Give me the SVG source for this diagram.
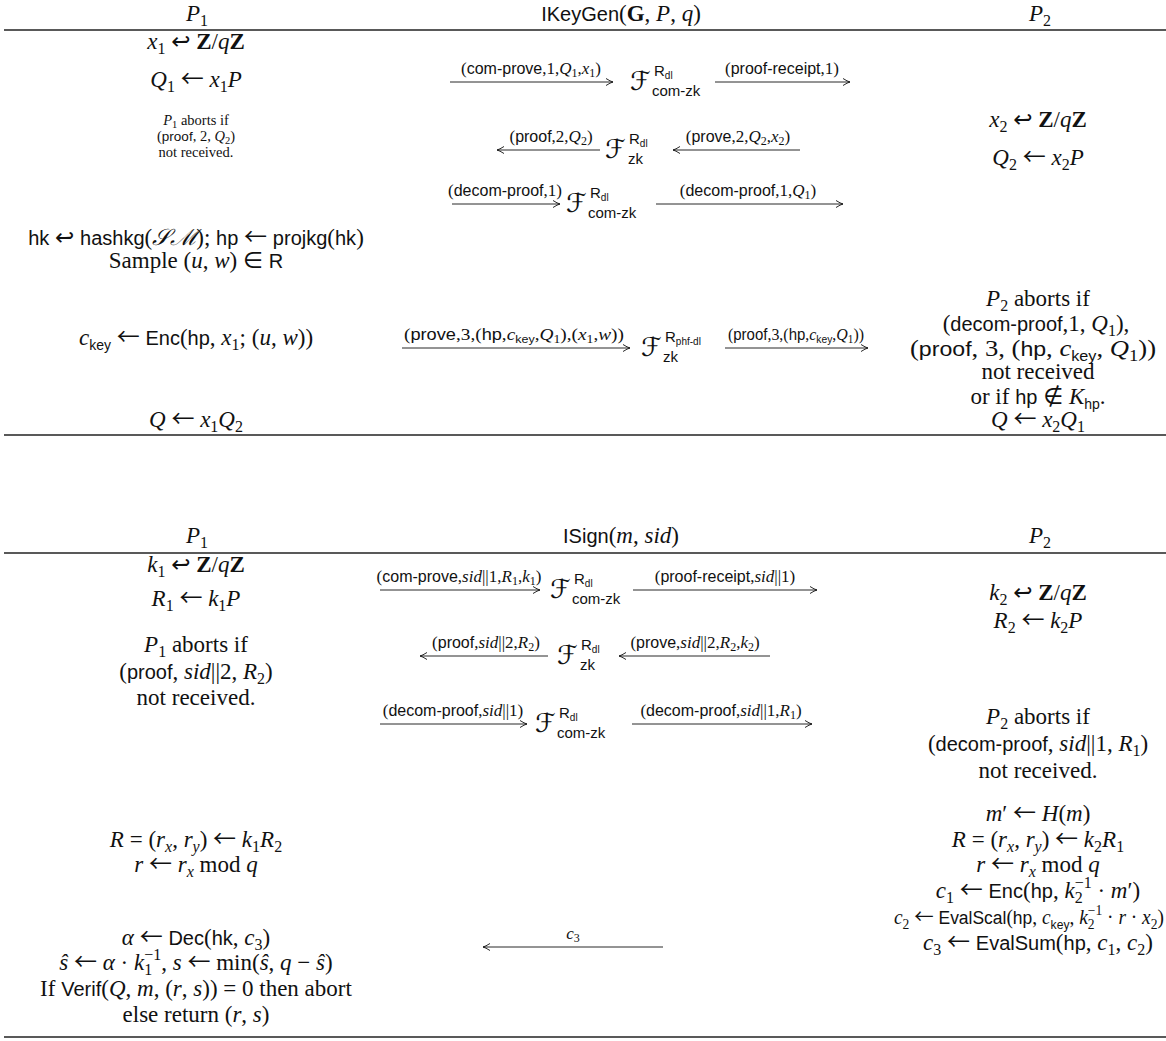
<svg xmlns="http://www.w3.org/2000/svg" width="1166" height="1041" viewBox="0 0 1166 1041">
<style>
.m{font-family:"Liberation Serif","DejaVu Serif",serif;font-size:23px;fill:#111;text-anchor:middle}
.m .s{font-size:20px}
.m2{font-size:20px}
.m2 .s{font-size:18px}
.sm{font-size:14.5px}
.sm .s{font-size:13.5px}
.l{font-family:"Liberation Serif","DejaVu Serif",serif;font-size:17px;fill:#111;text-anchor:middle}
.l .s{font-size:16px}
.i{font-style:italic}
.s{font-family:"Liberation Sans","DejaVu Sans",sans-serif;font-style:normal}
.b{font-weight:bold}
.a{font-family:"DejaVu Sans",sans-serif;font-style:normal}
.la{font-family:"Noto Sans CJK JP","DejaVu Sans",sans-serif;font-style:normal}
.m .u{font-size:16px}
.m .us{font-size:14px}
.m2 .u{font-size:14px}
.m2 .us{font-size:12.5px}
.su{font-size:10.5px}
.l .lu{font-size:12px}
.l .lus{font-size:11px}
.F{font-family:"DejaVu Serif","DejaVu Sans",serif;font-size:26px;font-style:italic;fill:#111}
.fs{font-family:"Liberation Sans","DejaVu Sans",sans-serif;font-size:15px;fill:#111}
.fss{font-size:10px}
.rule{stroke:#222;stroke-width:1.3}
.arr{stroke:#111;stroke-width:0.9;fill:none}
</style>
<defs>
<marker id="ah" viewBox="-8 -5 10 10" refX="0" refY="0" markerWidth="10" markerHeight="10" markerUnits="userSpaceOnUse" orient="auto"><path d="M-7,-3.5 Q-2.5,-0.6 0,0 Q-2.5,0.6 -7,3.5" fill="none" stroke="#111" stroke-width="0.9"/></marker>
</defs>
<rect width="1166" height="1041" fill="#fff"/>

<g id="rules">
<line class="rule" x1="4" y1="30" x2="1166" y2="30"/>
<line class="rule" x1="4" y1="435" x2="1166" y2="435"/>
<line class="rule" x1="4" y1="553" x2="1166" y2="553"/>
<line class="rule" x1="4" y1="1037" x2="1166" y2="1037"/>
</g>

<g id="headers">
<text class="m" x="197" y="21"><tspan class="i">P</tspan><tspan class="u" dy="5">1</tspan></text>
<text class="m" x="621" y="21"><tspan class="s">IKeyGen</tspan>(<tspan class="b">G</tspan>, <tspan class="i">P</tspan>, <tspan class="i">q</tspan>)</text>
<text class="m" x="1040" y="21"><tspan class="i">P</tspan><tspan class="u" dy="5">2</tspan></text>
<text class="m" x="197" y="543"><tspan class="i">P</tspan><tspan class="u" dy="5">1</tspan></text>
<text class="m" x="621" y="543"><tspan class="s">ISign</tspan>(<tspan class="i">m</tspan>, <tspan class="i">sid</tspan>)</text>
<text class="m" x="1040" y="543"><tspan class="i">P</tspan><tspan class="u" dy="5">2</tspan></text>
</g>

<g id="keygen-p1">
<text class="m" x="196" y="49"><tspan class="i">x</tspan><tspan class="u" dy="5">1</tspan><tspan dy="-5"> </tspan><tspan class="a">↩</tspan> <tspan class="b">Z</tspan>/<tspan class="i">q</tspan><tspan class="b">Z</tspan></text>
<text class="m" x="196" y="87"><tspan class="i">Q</tspan><tspan class="u" dy="5">1</tspan><tspan dy="-5"> </tspan><tspan class="la">←</tspan> <tspan class="i">x</tspan><tspan class="u" dy="5">1</tspan><tspan class="i" dy="-5">P</tspan></text>
<text class="m sm" x="196" y="125"><tspan class="i">P</tspan><tspan class="su" dy="3">1</tspan><tspan dy="-3"> aborts if</tspan></text>
<text class="m sm" x="196" y="141">(<tspan class="s">proof</tspan>, 2, <tspan class="i">Q</tspan><tspan class="su" dy="3">2</tspan><tspan dy="-3">)</tspan></text>
<text class="m sm" x="196" y="157">not received.</text>
<text class="m" x="196" y="245"><tspan class="s">hk</tspan> <tspan class="a">↩</tspan> <tspan class="s">hashkg</tspan>(<tspan class="i">𝒮ℳ</tspan>); <tspan class="s">hp</tspan> <tspan class="la">←</tspan> <tspan class="s">projkg</tspan>(<tspan class="s">hk</tspan>)</text>
<text class="m" x="196" y="268">Sample (<tspan class="i">u</tspan>, <tspan class="i">w</tspan>) <tspan class="a">∈</tspan> <tspan class="s">R</tspan></text>
<text class="m" x="196" y="345"><tspan class="i">c</tspan><tspan class="us s" dy="5">key</tspan><tspan dy="-5"> </tspan><tspan class="la">←</tspan> <tspan class="s">Enc</tspan>(<tspan class="s">hp</tspan>, <tspan class="i">x</tspan><tspan class="u" dy="5">1</tspan><tspan dy="-5">; (</tspan><tspan class="i">u</tspan>, <tspan class="i">w</tspan>))</text>
<text class="m" x="196" y="427"><tspan class="i">Q</tspan> <tspan class="la">←</tspan> <tspan class="i">x</tspan><tspan class="u" dy="5">1</tspan><tspan class="i" dy="-5">Q</tspan><tspan class="u" dy="5">2</tspan></text>
</g>

<g id="keygen-p2">
<text class="m" x="1038" y="127"><tspan class="i">x</tspan><tspan class="u" dy="5">2</tspan><tspan dy="-5"> </tspan><tspan class="a">↩</tspan> <tspan class="b">Z</tspan>/<tspan class="i">q</tspan><tspan class="b">Z</tspan></text>
<text class="m" x="1038" y="165"><tspan class="i">Q</tspan><tspan class="u" dy="5">2</tspan><tspan dy="-5"> </tspan><tspan class="la">←</tspan> <tspan class="i">x</tspan><tspan class="u" dy="5">2</tspan><tspan class="i" dy="-5">P</tspan></text>
<text class="m" x="1038" y="306"><tspan class="i">P</tspan><tspan class="u" dy="5">2</tspan><tspan dy="-5"> aborts if</tspan></text>
<text class="m" x="1036" y="331">(<tspan class="s">decom-proof</tspan>,1, <tspan class="i">Q</tspan><tspan class="u" dy="5">1</tspan><tspan dy="-5">),</tspan></text>
<text class="m" x="1033" y="356" textLength="246" lengthAdjust="spacingAndGlyphs">(<tspan class="s">proof</tspan>, 3, (<tspan class="s">hp</tspan>, <tspan class="i">c</tspan><tspan class="us s" dy="5">key</tspan><tspan dy="-5">, </tspan><tspan class="i">Q</tspan><tspan class="u" dy="5">1</tspan><tspan dy="-5">))</tspan></text>
<text class="m" x="1038" y="379">not received</text>
<text class="m" x="1038" y="404">or if <tspan class="s">hp</tspan> <tspan class="a">∉</tspan> <tspan class="i">K</tspan><tspan class="us s" dy="5">hp</tspan><tspan dy="-5">.</tspan></text>
<text class="m" x="1038" y="427"><tspan class="i">Q</tspan> <tspan class="la">←</tspan> <tspan class="i">x</tspan><tspan class="u" dy="5">2</tspan><tspan class="i" dy="-5">Q</tspan><tspan class="u" dy="5">1</tspan></text>
</g>

<g id="sign-p1">
<text class="m" x="196" y="572"><tspan class="i">k</tspan><tspan class="u" dy="5">1</tspan><tspan dy="-5"> </tspan><tspan class="a">↩</tspan> <tspan class="b">Z</tspan>/<tspan class="i">q</tspan><tspan class="b">Z</tspan></text>
<text class="m" x="196" y="606"><tspan class="i">R</tspan><tspan class="u" dy="5">1</tspan><tspan dy="-5"> </tspan><tspan class="la">←</tspan> <tspan class="i">k</tspan><tspan class="u" dy="5">1</tspan><tspan class="i" dy="-5">P</tspan></text>
<text class="m" x="196" y="652"><tspan class="i">P</tspan><tspan class="u" dy="5">1</tspan><tspan dy="-5"> aborts if</tspan></text>
<text class="m" x="196" y="679">(<tspan class="s">proof</tspan>, <tspan class="i">sid</tspan>||2, <tspan class="i">R</tspan><tspan class="u" dy="5">2</tspan><tspan dy="-5">)</tspan></text>
<text class="m" x="196" y="705">not received.</text>
<text class="m" x="196" y="847"><tspan class="i">R</tspan> = (<tspan class="i">r</tspan><tspan class="u i" dy="5">x</tspan><tspan dy="-5">, </tspan><tspan class="i">r</tspan><tspan class="u i" dy="5">y</tspan><tspan dy="-5">) </tspan><tspan class="la">←</tspan> <tspan class="i">k</tspan><tspan class="u" dy="5">1</tspan><tspan class="i" dy="-5">R</tspan><tspan class="u" dy="5">2</tspan></text>
<text class="m" x="196" y="872"><tspan class="i">r</tspan> <tspan class="la">←</tspan> <tspan class="i">r</tspan><tspan class="u i" dy="5">x</tspan><tspan dy="-5"> mod </tspan><tspan class="i">q</tspan></text>
<text class="m" x="196" y="945"><tspan class="i">α</tspan> <tspan class="la">←</tspan> <tspan class="s">Dec</tspan>(<tspan class="s">hk</tspan>, <tspan class="i">c</tspan><tspan class="u" dy="5">3</tspan><tspan dy="-5">)</tspan></text>
<text class="m" x="196" y="970"><tspan class="i">ŝ</tspan> <tspan class="la">←</tspan> <tspan class="i">α</tspan> · <tspan class="i">k</tspan><tspan class="u" dy="5">1</tspan><tspan class="u" dx="-8" dy="-15">−1</tspan><tspan dy="10">, </tspan><tspan class="i">s</tspan> <tspan class="la">←</tspan> min(<tspan class="i">ŝ</tspan>, <tspan class="i">q</tspan> − <tspan class="i">ŝ</tspan>)</text>
<text class="m" x="196" y="996">If <tspan class="s">Verif</tspan>(<tspan class="i">Q</tspan>, <tspan class="i">m</tspan>, (<tspan class="i">r</tspan>, <tspan class="i">s</tspan>)) = 0 then abort</text>
<text class="m" x="196" y="1022">else return (<tspan class="i">r</tspan>, <tspan class="i">s</tspan>)</text>
</g>

<g id="sign-p2">
<text class="m" x="1038" y="600"><tspan class="i">k</tspan><tspan class="u" dy="5">2</tspan><tspan dy="-5"> </tspan><tspan class="a">↩</tspan> <tspan class="b">Z</tspan>/<tspan class="i">q</tspan><tspan class="b">Z</tspan></text>
<text class="m" x="1038" y="628"><tspan class="i">R</tspan><tspan class="u" dy="5">2</tspan><tspan dy="-5"> </tspan><tspan class="la">←</tspan> <tspan class="i">k</tspan><tspan class="u" dy="5">2</tspan><tspan class="i" dy="-5">P</tspan></text>
<text class="m" x="1038" y="724"><tspan class="i">P</tspan><tspan class="u" dy="5">2</tspan><tspan dy="-5"> aborts if</tspan></text>
<text class="m" x="1038" y="751">(<tspan class="s">decom-proof</tspan>, <tspan class="i">sid</tspan>||1, <tspan class="i">R</tspan><tspan class="u" dy="5">1</tspan><tspan dy="-5">)</tspan></text>
<text class="m" x="1038" y="778">not received.</text>
<text class="m" x="1038" y="821"><tspan class="i">m</tspan>′ <tspan class="la">←</tspan> <tspan class="i">H</tspan>(<tspan class="i">m</tspan>)</text>
<text class="m" x="1038" y="847"><tspan class="i">R</tspan> = (<tspan class="i">r</tspan><tspan class="u i" dy="5">x</tspan><tspan dy="-5">, </tspan><tspan class="i">r</tspan><tspan class="u i" dy="5">y</tspan><tspan dy="-5">) </tspan><tspan class="la">←</tspan> <tspan class="i">k</tspan><tspan class="u" dy="5">2</tspan><tspan class="i" dy="-5">R</tspan><tspan class="u" dy="5">1</tspan></text>
<text class="m" x="1038" y="872"><tspan class="i">r</tspan> <tspan class="la">←</tspan> <tspan class="i">r</tspan><tspan class="u i" dy="5">x</tspan><tspan dy="-5"> mod </tspan><tspan class="i">q</tspan></text>
<text class="m" x="1038" y="898"><tspan class="i">c</tspan><tspan class="u" dy="5">1</tspan><tspan dy="-5"> </tspan><tspan class="la">←</tspan> <tspan class="s">Enc</tspan>(<tspan class="s">hp</tspan>, <tspan class="i">k</tspan><tspan class="u" dy="5">2</tspan><tspan class="u" dx="-8" dy="-15">−1</tspan><tspan dy="10"> · </tspan><tspan class="i">m</tspan>′)</text>
<text class="m m2" x="1029" y="924" textLength="270" lengthAdjust="spacingAndGlyphs"><tspan class="i">c</tspan><tspan class="u" dy="5">2</tspan><tspan dy="-5"> </tspan><tspan class="la">←</tspan> <tspan class="s">EvalScal</tspan>(<tspan class="s">hp</tspan>, <tspan class="i">c</tspan><tspan class="us s" dy="5">key</tspan><tspan dy="-5">, </tspan><tspan class="i">k</tspan><tspan class="u" dy="5">2</tspan><tspan class="u" dx="-7" dy="-14">−1</tspan><tspan dy="9"> · </tspan><tspan class="i">r</tspan> · <tspan class="i">x</tspan><tspan class="u" dy="5">2</tspan><tspan dy="-5">)</tspan></text>
<text class="m" x="1038" y="950"><tspan class="i">c</tspan><tspan class="u" dy="5">3</tspan><tspan dy="-5"> </tspan><tspan class="la">←</tspan> <tspan class="s">EvalSum</tspan>(<tspan class="s">hp</tspan>, <tspan class="i">c</tspan><tspan class="u" dy="5">1</tspan><tspan dy="-5">, </tspan><tspan class="i">c</tspan><tspan class="u" dy="5">2</tspan><tspan dy="-5">)</tspan></text>
</g>

<g id="F1"><text class="F" x="630" y="90">ℱ</text><text class="fs" x="654" y="76">R<tspan class="fss" dy="3">dl</tspan></text><text class="fs" x="652" y="96">com-zk</text></g>
<g id="F2"><text class="F" x="605" y="158">ℱ</text><text class="fs" x="629" y="144">R<tspan class="fss" dy="3">dl</tspan></text><text class="fs" x="628" y="164">zk</text></g>
<g id="F3"><text class="F" x="566" y="212">ℱ</text><text class="fs" x="590" y="198">R<tspan class="fss" dy="3">dl</tspan></text><text class="fs" x="588" y="218">com-zk</text></g>
<g id="F4"><text class="F" x="641" y="356">ℱ</text><text class="fs" x="665" y="342">R<tspan class="fss" dy="3">phf-dl</tspan></text><text class="fs" x="663" y="362">zk</text></g>
<g id="F5"><text class="F" x="550" y="598">ℱ</text><text class="fs" x="574" y="584">R<tspan class="fss" dy="3">dl</tspan></text><text class="fs" x="572" y="604">com-zk</text></g>
<g id="F6"><text class="F" x="557" y="664">ℱ</text><text class="fs" x="581" y="650">R<tspan class="fss" dy="3">dl</tspan></text><text class="fs" x="580" y="670">zk</text></g>
<g id="F7"><text class="F" x="535" y="732">ℱ</text><text class="fs" x="559" y="718">R<tspan class="fss" dy="3">dl</tspan></text><text class="fs" x="557" y="738">com-zk</text></g>

<g id="connectors">
<line class="arr" x1="450" y1="82" x2="613" y2="82" marker-end="url(#ah)"/>
<line class="arr" x1="715" y1="82" x2="850" y2="82" marker-end="url(#ah)"/>
<line class="arr" x1="600" y1="150" x2="497" y2="150" marker-end="url(#ah)"/>
<line class="arr" x1="800" y1="150" x2="673" y2="150" marker-end="url(#ah)"/>
<line class="arr" x1="452" y1="204" x2="560" y2="204" marker-end="url(#ah)"/>
<line class="arr" x1="656" y1="204" x2="843" y2="204" marker-end="url(#ah)"/>
<line class="arr" x1="402" y1="348" x2="630" y2="348" marker-end="url(#ah)"/>
<line class="arr" x1="725" y1="348" x2="868" y2="348" marker-end="url(#ah)"/>
<line class="arr" x1="380" y1="590" x2="540" y2="590" marker-end="url(#ah)"/>
<line class="arr" x1="633" y1="590" x2="817" y2="590" marker-end="url(#ah)"/>
<line class="arr" x1="548" y1="656" x2="420" y2="656" marker-end="url(#ah)"/>
<line class="arr" x1="770" y1="656" x2="619" y2="656" marker-end="url(#ah)"/>
<line class="arr" x1="380" y1="724" x2="527" y2="724" marker-end="url(#ah)"/>
<line class="arr" x1="632" y1="724" x2="812" y2="724" marker-end="url(#ah)"/>
<line class="arr" x1="663" y1="947" x2="483" y2="947" marker-end="url(#ah)"/>

<text class="l" x="531" y="74">(<tspan class="s">com-prove</tspan>,1,<tspan class="i">Q</tspan><tspan class="lu" dy="3">1</tspan><tspan dy="-3">,</tspan><tspan class="i">x</tspan><tspan class="lu" dy="3">1</tspan><tspan dy="-3">)</tspan></text>
<text class="l" x="782" y="74">(<tspan class="s">proof-receipt</tspan>,1)</text>
<text class="l" x="551" y="142">(<tspan class="s">proof</tspan>,2,<tspan class="i">Q</tspan><tspan class="lu" dy="3">2</tspan><tspan dy="-3">)</tspan></text>
<text class="l" x="738" y="142">(<tspan class="s">prove</tspan>,2,<tspan class="i">Q</tspan><tspan class="lu" dy="3">2</tspan><tspan dy="-3">,</tspan><tspan class="i">x</tspan><tspan class="lu" dy="3">2</tspan><tspan dy="-3">)</tspan></text>
<text class="l" x="505" y="196">(<tspan class="s">decom-proof</tspan>,1)</text>
<text class="l" x="748" y="196">(<tspan class="s">decom-proof</tspan>,1,<tspan class="i">Q</tspan><tspan class="lu" dy="3">1</tspan><tspan dy="-3">)</tspan></text>
<text class="l" x="514" y="340" textLength="220" lengthAdjust="spacingAndGlyphs">(<tspan class="s">prove</tspan>,3,(<tspan class="s">hp</tspan>,<tspan class="i">c</tspan><tspan class="lus s" dy="3">key</tspan><tspan dy="-3">,</tspan><tspan class="i">Q</tspan><tspan class="lu" dy="3">1</tspan><tspan dy="-3">),(</tspan><tspan class="i">x</tspan><tspan class="lu" dy="3">1</tspan><tspan dy="-3">,</tspan><tspan class="i">w</tspan>))</text>
<text class="l" x="796" y="340" textLength="136" lengthAdjust="spacingAndGlyphs">(<tspan class="s">proof</tspan>,3,(<tspan class="s">hp</tspan>,<tspan class="i">c</tspan><tspan class="lus s" dy="3">key</tspan><tspan dy="-3">,</tspan><tspan class="i">Q</tspan><tspan class="lu" dy="3">1</tspan><tspan dy="-3">))</tspan></text>
<text class="l" x="459" y="582">(<tspan class="s">com-prove</tspan>,<tspan class="i">sid</tspan>||1,<tspan class="i">R</tspan><tspan class="lu" dy="3">1</tspan><tspan dy="-3">,</tspan><tspan class="i">k</tspan><tspan class="lu" dy="3">1</tspan><tspan dy="-3">)</tspan></text>
<text class="l" x="725" y="582">(<tspan class="s">proof-receipt</tspan>,<tspan class="i">sid</tspan>||1)</text>
<text class="l" x="486" y="648">(<tspan class="s">proof</tspan>,<tspan class="i">sid</tspan>||2,<tspan class="i">R</tspan><tspan class="lu" dy="3">2</tspan><tspan dy="-3">)</tspan></text>
<text class="l" x="695" y="648">(<tspan class="s">prove</tspan>,<tspan class="i">sid</tspan>||2,<tspan class="i">R</tspan><tspan class="lu" dy="3">2</tspan><tspan dy="-3">,</tspan><tspan class="i">k</tspan><tspan class="lu" dy="3">2</tspan><tspan dy="-3">)</tspan></text>
<text class="l" x="453" y="716">(<tspan class="s">decom-proof</tspan>,<tspan class="i">sid</tspan>||1)</text>
<text class="l" x="721" y="716">(<tspan class="s">decom-proof</tspan>,<tspan class="i">sid</tspan>||1,<tspan class="i">R</tspan><tspan class="lu" dy="3">1</tspan><tspan dy="-3">)</tspan></text>
<text class="l" x="573" y="939"><tspan class="i">c</tspan><tspan class="lu" dy="3">3</tspan></text>
</g>
</svg>
